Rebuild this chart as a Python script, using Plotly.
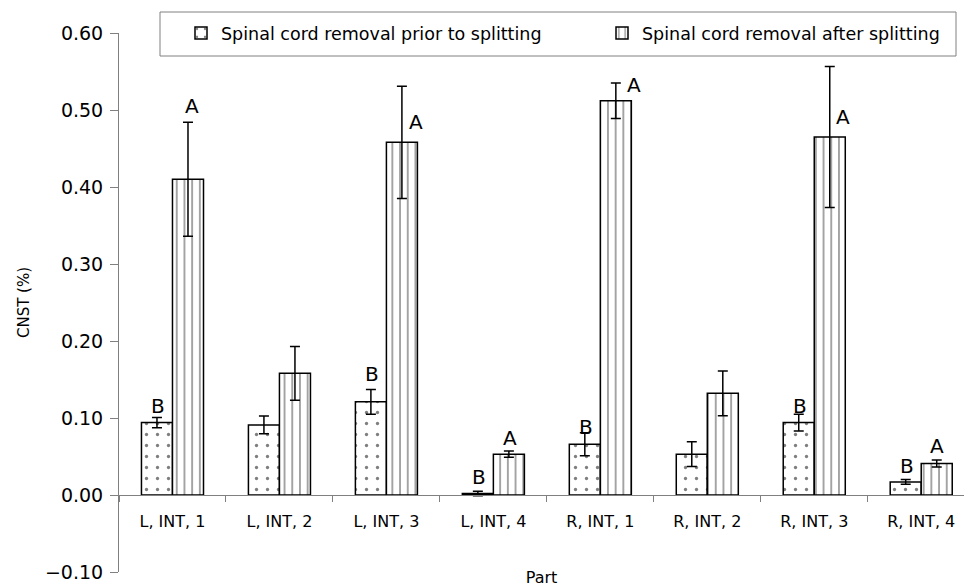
import plotly.graph_objects as go

categories = ["L, INT, 1", "L, INT, 2", "L, INT, 3", "L, INT, 4",
              "R, INT, 1", "R, INT, 2", "R, INT, 3", "R, INT, 4"]
series_names = ["Spinal cord removal prior to splitting",
                "Spinal cord removal after splitting"]
prior_values = [0.094, 0.091, 0.121, 0.002, 0.066, 0.053, 0.094, 0.017]
prior_errors = [0.0065, 0.0115, 0.016, 0.003, 0.015, 0.016, 0.011, 0.003]
after_values = [0.410, 0.158, 0.458, 0.053, 0.512, 0.132, 0.465, 0.041]
after_errors = [0.074, 0.035, 0.073, 0.004, 0.023, 0.029, 0.0915, 0.0045]
prior_letters = ["B", "", "B", "B", "B", "", "B", "B"]
after_letters = ["A", "", "A", "A", "A", "", "A", "A"]
y_ticks = [-0.1, 0.0, 0.1, 0.2, 0.3, 0.4, 0.5, 0.6]

# label placement offsets (style): dx in category units from bar centre, dy in data units above bar top
prior_label_dx = [0.01, 0, 0.01, 0.01, 0.01, 0, 0.012, 0.01]
prior_label_dy = [0.021, 0, 0.036, 0.022, 0.022, 0, 0.021, 0.021]
after_label_dx = [0.035, 0, 0.13, 0.01, 0.17, 0, 0.12, 0.0]
after_label_dy = [0.095, 0, 0.027, 0.021, 0.021, 0, 0.026, 0.023]

FONT = "DejaVu Sans"
AXIS_GRAY = "#808080"
BAR_HALF = 0.145

fig = go.Figure()
fig.add_trace(go.Bar(
    x=categories, y=prior_values, name=series_names[0], legend="legend",
    marker=dict(color="white", line=dict(color="black", width=1.5),
                pattern=dict(shape=".", size=11, solidity=0.07,
                             fgcolor="black", bgcolor="white")),
    error_y=dict(type="data", array=prior_errors, color="black",
                 thickness=1.5, width=5),
))
fig.add_trace(go.Bar(
    x=categories, y=after_values, name=series_names[1], legend="legend2",
    marker=dict(color="white", line=dict(color="black", width=1.5),
                pattern=dict(shape="|", size=7.7, solidity=0.18,
                             fgcolor="black", bgcolor="white")),
    error_y=dict(type="data", array=after_errors, color="black",
                 thickness=1.5, width=5),
))

annotations = []
for i, cat in enumerate(categories):
    if prior_letters[i]:
        annotations.append(dict(
            x=i - BAR_HALF + prior_label_dx[i], y=prior_values[i] + prior_label_dy[i],
            xref="x", yref="y", text=prior_letters[i], showarrow=False,
            font=dict(family=FONT, size=20, color="black")))
    if after_letters[i]:
        annotations.append(dict(
            x=i + BAR_HALF + after_label_dx[i], y=after_values[i] + after_label_dy[i],
            xref="x", yref="y", text=after_letters[i], showarrow=False,
            font=dict(family=FONT, size=20, color="black")))

legend_style = dict(orientation="h", y=1.0, xanchor="left", yanchor="middle",
                    font=dict(family=FONT, size=17.5, color="black"),
                    bgcolor="rgba(0,0,0,0)", borderwidth=0)

fig.update_layout(
    width=964, height=588, autosize=False,
    margin=dict(l=119, r=0, t=33, b=16),
    paper_bgcolor="white", plot_bgcolor="white",
    barmode="group", bargap=0.42, bargroupgap=0,
    font=dict(family=FONT, color="black"),
    showlegend=True,
    legend=dict(x=(181 - 119) / 845, **legend_style),
    legend2=dict(x=(602 - 119) / 845, **legend_style),
    annotations=annotations,
    shapes=[dict(type="rect", xref="paper", yref="paper",
                 x0=(160 - 119) / 845, x1=(956 - 119) / 845,
                 y0=1 - (56 - 33) / 539, y1=1 + (33 - 12) / 539,
                 line=dict(color=AXIS_GRAY, width=1), fillcolor="rgba(0,0,0,0)",
                 layer="above")],
    xaxis=dict(type="category", categoryorder="array", categoryarray=categories,
               range=[-0.5, 7.4], anchor="free", position=1 / 7,
               showline=True, linecolor=AXIS_GRAY, linewidth=1,
               ticks="outside", tickson="boundaries", ticklen=6, tickcolor=AXIS_GRAY,
               ticklabelstandoff=12,
               showgrid=False, zeroline=False,
               tickfont=dict(family=FONT, size=16, color="black"),
               title=dict(text="Part", font=dict(family=FONT, size=16, color="black"),
                          standoff=41)),
    yaxis=dict(range=[-0.1, 0.6], tickvals=y_ticks, tickformat=".2f",
               showline=True, linecolor=AXIS_GRAY, linewidth=1,
               ticks="outside", ticklen=8, tickcolor=AXIS_GRAY,
               ticklabelstandoff=3,
               showgrid=False, zeroline=False,
               tickfont=dict(family=FONT, size=19, color="black"),
               title=dict(text="CNST (%)", font=dict(family=FONT, size=15, color="black"),
                          standoff=11)),
)

fig.write_html("out.html", config={"displayModeBar": False},
               post_script="document.body.style.margin='0';document.body.style.padding='0';")
